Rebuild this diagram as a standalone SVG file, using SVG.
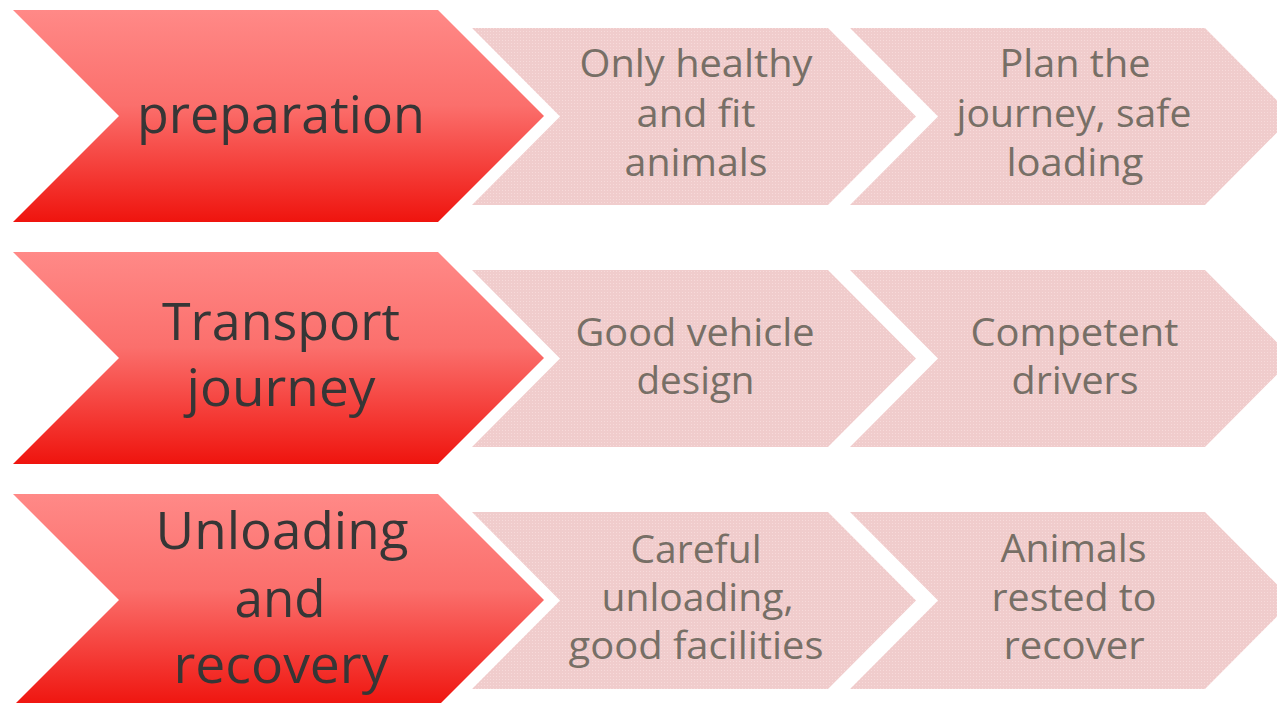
<svg xmlns="http://www.w3.org/2000/svg" width="1277" height="703" viewBox="0 0 1277 703">
<defs>
<linearGradient id="redA" x1="0" y1="0" x2="0" y2="1">
<stop offset="0" stop-color="#FF8987"/>
<stop offset="0.45" stop-color="#FB6F6C"/>
<stop offset="1" stop-color="#EF140E"/>
</linearGradient>
<pattern id="dots" width="3" height="3" patternUnits="userSpaceOnUse">
<rect width="3" height="3" fill="#F0CCCC"/>
<rect x="1" y="1" width="1" height="1" fill="#F7DADA"/>
</pattern>
</defs>
<style>
.red{fill:url(#redA)}
.light{fill:url(#dots)}
.rt{font-family:"Open Sans","Noto Sans",sans-serif;font-size:51px;fill:#363636;text-anchor:middle}
.lt{font-family:"Open Sans","Noto Sans",sans-serif;font-size:38px;fill:#776F66;text-anchor:middle}
</style>
<rect width="1277" height="703" fill="#FFFFFF"/>
<g id="connectors"/>
<g id="node-preparation">
<polygon class="red" points="13,10 438,10 544,116 438,222 13,222 119,116"/>
<text class="rt" x="281" y="133" textLength="288" lengthAdjust="spacingAndGlyphs">preparation</text>
</g>
<g id="node-healthy">
<polygon class="light" points="472,28 828,28 916,116.5 828,205 472,205 560,116.5"/>
<text class="lt" x="696" y="77" textLength="233" lengthAdjust="spacingAndGlyphs">Only healthy</text>
<text class="lt" x="696" y="127" textLength="119" lengthAdjust="spacingAndGlyphs">and fit</text>
<text class="lt" x="696" y="176" textLength="143" lengthAdjust="spacingAndGlyphs">animals</text>
</g>
<g id="node-plan">
<polygon class="light" points="850,28 1205,28 1293,116.5 1205,205 850,205 938,116.5"/>
<text class="lt" x="1075" y="77" textLength="151" lengthAdjust="spacingAndGlyphs">Plan the</text>
<text class="lt" x="1074" y="127" textLength="235" lengthAdjust="spacingAndGlyphs">journey, safe</text>
<text class="lt" x="1075" y="176" textLength="137" lengthAdjust="spacingAndGlyphs">loading</text>
</g>
<g id="node-transport">
<polygon class="red" points="13,252 438,252 544,358 438,464 13,464 119,358"/>
<text class="rt" x="281" y="340" textLength="238" lengthAdjust="spacingAndGlyphs">Transport</text>
<text class="rt" x="281" y="406" textLength="189" lengthAdjust="spacingAndGlyphs">journey</text>
</g>
<g id="node-vehicle">
<polygon class="light" points="472,270 828,270 916,358.5 828,447 472,447 560,358.5"/>
<text class="lt" x="695" y="346" textLength="239" lengthAdjust="spacingAndGlyphs">Good vehicle</text>
<text class="lt" x="695.5" y="394" textLength="118" lengthAdjust="spacingAndGlyphs">design</text>
</g>
<g id="node-drivers">
<polygon class="light" points="850,270 1205,270 1293,358.5 1205,447 850,447 938,358.5"/>
<text class="lt" x="1074.5" y="346" textLength="208" lengthAdjust="spacingAndGlyphs">Competent</text>
<text class="lt" x="1075" y="394" textLength="127" lengthAdjust="spacingAndGlyphs">drivers</text>
</g>
<g id="node-unloading">
<polygon class="red" points="13,494 438,494 544,600 438,706 13,706 119,600"/>
<text class="rt" x="282" y="549" textLength="253" lengthAdjust="spacingAndGlyphs">Unloading</text>
<text class="rt" x="280" y="617" textLength="91" lengthAdjust="spacingAndGlyphs">and</text>
<text class="rt" x="281" y="683" textLength="215" lengthAdjust="spacingAndGlyphs">recovery</text>
</g>
<g id="node-careful">
<polygon class="light" points="472,512 828,512 916,600.5 828,689 472,689 560,600.5"/>
<text class="lt" x="696" y="563" textLength="131" lengthAdjust="spacingAndGlyphs">Careful</text>
<text class="lt" x="697.5" y="611" textLength="192" lengthAdjust="spacingAndGlyphs">unloading,</text>
<text class="lt" x="696" y="659" textLength="255" lengthAdjust="spacingAndGlyphs">good facilities</text>
</g>
<g id="node-rested">
<polygon class="light" points="850,512 1205,512 1293,600.5 1205,689 850,689 938,600.5"/>
<text class="lt" x="1073.5" y="562" textLength="146" lengthAdjust="spacingAndGlyphs">Animals</text>
<text class="lt" x="1074" y="611" textLength="165" lengthAdjust="spacingAndGlyphs">rested to</text>
<text class="lt" x="1074" y="659" textLength="141" lengthAdjust="spacingAndGlyphs">recover</text>
</g>
</svg>
